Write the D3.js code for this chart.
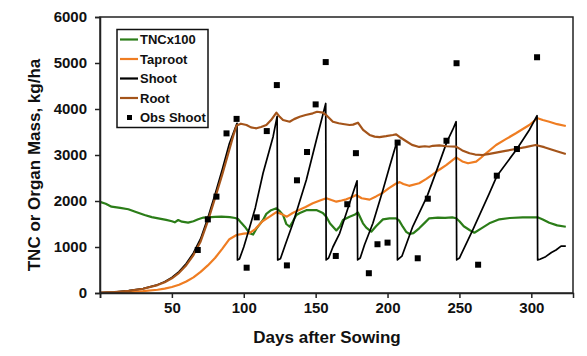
<!DOCTYPE html>
<html>
<head>
<meta charset="utf-8">
<script src="https://cdn.jsdelivr.net/npm/d3@7"></script>
<style>
  body { margin: 0; background: #fff; }
  text { font-family: "Liberation Sans", Arial, sans-serif; font-weight: bold; fill: #111; }
</style>
</head>
<body>
<svg id="chart" width="587" height="356"></svg>
<script>
// series as [day, kg/ha]
const tnc = [[0,1980],[4,1940],[8,1876],[14,1850],[19.7,1820],[25,1760],[31,1696],[36,1650],[40.5,1623],[46,1590],[50,1560],[52,1537],[54.4,1587],[57,1550],[61.3,1529],[65,1560],[68.3,1602],[72,1640],[75.2,1645],[80,1655],[84.5,1660],[90.3,1650],[94,1630],[96,1610],[98.4,1520],[100.7,1441],[104,1300],[106.5,1270],[108.8,1400],[113.4,1587],[115.7,1720],[119,1800],[122.7,1841],[125,1780],[127.3,1696],[129.6,1500],[131.9,1440],[134,1550],[136.6,1696],[139,1740],[143.5,1800],[150.5,1804],[155,1740],[157.4,1659],[160,1510],[164.4,1360],[167,1450],[169,1587],[173.6,1659],[177,1700],[179.4,1750],[182.9,1515],[185.2,1420],[188.7,1333],[192,1450],[196.8,1600],[201.4,1624],[206,1624],[208,1580],[210.6,1441],[213,1330],[215.3,1283],[218,1300],[222,1406],[226,1530],[229,1624],[235,1640],[240,1635],[245,1645],[247.7,1624],[250,1560],[253,1450],[257,1370],[260.4,1311],[265,1400],[270.8,1515],[277.8,1602],[285,1630],[294,1645],[304.4,1645],[308,1600],[312.5,1529],[318,1470],[324,1441]];

const taproot = [[0,0],[20,20],[30,40],[40,70],[45,95],[50,130],[55,180],[60,250],[65,340],[70,460],[75,600],[80,760],[85,960],[90,1170],[95,1260],[100,1290],[104,1300],[108,1390],[113,1560],[118,1660],[122.7,1760],[126,1720],[130,1660],[134,1740],[138,1800],[143,1870],[148,1950],[153,2010],[157.4,2060],[161,2020],[164.4,1985],[168,2010],[171.3,2036],[175,2080],[178.2,2130],[182,2060],[187.5,2030],[192,2100],[196.8,2180],[201,2280],[206,2380],[208.5,2410],[211,2370],[215,2330],[222,2385],[227,2480],[231.5,2580],[236,2680],[240.8,2780],[247.7,2950],[252,2860],[256,2820],[261.6,2855],[265,2940],[268.5,3037],[275.5,3217],[282,3340],[289.3,3472],[298.6,3652],[304.4,3800],[308,3760],[312.5,3724],[318,3670],[324,3630]];

const shoot = [[0,10],[10,22],[20,50],[30,95],[40,178],[45,245],[50,340],[55,465],[60,640],[65,870],[70,1180],[75,1630],[80,2140],[85,2680],[90,3250],[95.3,3690],
  [95.6,720],[97,740],[100,1000],[104.2,1441],[108,1850],[113.4,2602],[117,3010],[120.4,3398],[123.2,3840],
  [123.6,720],[125.5,745],[129,1060],[134.2,1515],[143.5,2457],[150.5,3326],[157,4120],
  [157.3,720],[159,760],[162,1000],[166.7,1297],[173.6,1950],[178.8,2440],
  [179.2,720],[181,760],[184,1050],[189.8,1515],[196.8,2239],[201.4,2746],[206.5,3290],
  [206.9,720],[210,800],[217.6,1450],[227.5,2100],[234,2650],[241.2,3280],[245.5,3560],[247.7,3724],
  [248.1,720],[250,760],[259.3,1370],[270.8,2167],[276.2,2551],[290,3130],[298.6,3544],[304,3855],
  [304.4,720],[306,735],[310,790],[314,880],[317.2,935],[320.7,1020],[324,1020]];

const root = [[0,10],[10,22],[20,48],[30,92],[40,172],[45,235],[50,320],[55,440],[60,605],[65,825],[70,1120],[75,1560],[80,2060],[85,2570],[90,3120],[93,3450],[95,3640],[98,3680],[101.9,3652],[105,3600],[108.8,3580],[112,3610],[115.7,3652],[119,3760],[122.7,3920],[125,3830],[127.3,3761],[131.9,3724],[135,3780],[138.9,3833],[143,3870],[148,3906],[151,3940],[155,3920],[158,3850],[162,3724],[166,3690],[169,3674],[173.6,3652],[176,3660],[179.4,3703],[183,3544],[187.5,3435],[191,3400],[194.4,3390],[199,3410],[203.7,3435],[206,3449],[209,3380],[213,3300],[217,3220],[222,3175],[226,3190],[229,3180],[231.5,3200],[236,3210],[241,3190],[247.7,3181],[252,3100],[257,3037],[261,3010],[266,3000],[270,3020],[275.5,3050],[282,3090],[289,3130],[296,3170],[303,3217],[309,3170],[315,3109],[320,3060],[324,3022]];

const obsShoot = [[68,935],[75,1600],[81,2095],[88,3470],[95,3785],[102,550],[109,1645],[116,3520],[123,4520],[130,600],[137,2450],[144,3065],[150,4100],[157,5020],[164,805],[172,1930],[178,3040],[187,430],[193,1060],[200,1095],[207,3270],[221,755],[228,2050],[241,3310],[248,4995],[263,615],[276,2550],[290,3130],[304,5125]];

const xTicks = [0, 50, 100, 150, 200, 250, 300];
const yTicks = [0, 1000, 2000, 3000, 4000, 5000, 6000];

const legendItems = [
  { name: 'TNCx100', color: '#2b7d18', type: 'line' },
  { name: 'Taproot', color: '#ef7d22', type: 'line' },
  { name: 'Shoot', color: '#000000', type: 'line' },
  { name: 'Root', color: '#a4541a', type: 'line' },
  { name: 'Obs Shoot', color: '#000000', type: 'square' }
];

const svg = d3.select('#chart');
const plotL = 100, plotR = 573, plotT = 17, plotB = 293;

const x = d3.scaleLinear().domain([0, 329]).range([plotL, plotR]);
const y = d3.scaleLinear().domain([0, 6000]).range([plotB, plotT]);

svg.append('rect').attr('width', 587).attr('height', 356).attr('fill', '#fff');

// series
const line = d3.line().x(d => x(d[0])).y(d => y(d[1]));
const series = [
  { data: tnc, color: legendItems[0].color, w: 2.2 },
  { data: taproot, color: legendItems[1].color, w: 2.2 },
  { data: shoot, color: '#000', w: 1.7 },
  { data: root, color: legendItems[3].color, w: 2.2 }
];
series.forEach(s => {
  svg.append('path').datum(s.data)
    .attr('d', line)
    .attr('fill', 'none')
    .attr('stroke', s.color)
    .attr('stroke-width', s.w)
    .attr('stroke-linejoin', 'round');
});

svg.selectAll('.obs').data(obsShoot).enter().append('rect')
  .attr('class', 'obs')
  .attr('x', d => x(d[0]) - 3)
  .attr('y', d => y(d[1]) - 3)
  .attr('width', 6).attr('height', 6)
  .attr('fill', '#000');

// frame
svg.append('rect')
  .attr('x', plotL).attr('y', plotT)
  .attr('width', plotR - plotL).attr('height', plotB - plotT)
  .attr('fill', 'none').attr('stroke', '#222').attr('stroke-width', 1.5);

// axes
const xAxis = svg.append('g').attr('transform', `translate(0,${plotB})`)
  .call(d3.axisBottom(x).tickValues(xTicks).tickSize(5).tickPadding(4)
    .tickFormat(d => d === 0 ? '' : d));
const yAxis = svg.append('g').attr('transform', `translate(${plotL},0)`)
  .call(d3.axisLeft(y).tickValues(yTicks).tickSize(5).tickPadding(8)
    .tickFormat(d3.format('d')));
[xAxis, yAxis].forEach(a => {
  a.select('.domain').attr('stroke', '#222').attr('stroke-width', 1.5);
  a.selectAll('.tick line').attr('stroke', '#222').attr('stroke-width', 1.5);
  a.selectAll('.tick text').style('font-size', '15px').attr('fill', '#111');
});

// titles
svg.append('text')
  .attr('x', 327).attr('y', 343)
  .attr('text-anchor', 'middle')
  .style('font-size', '17px')
  .text('Days after Sowing');

svg.append('text')
  .attr('transform', 'translate(40,165) rotate(-90)')
  .attr('text-anchor', 'middle')
  .style('font-size', '17px')
  .text('TNC or Organ Mass, kg/ha');

// legend
const lg = svg.append('g');
lg.append('rect')
  .attr('x', 117).attr('y', 29.5).attr('width', 91).attr('height', 98)
  .attr('fill', '#fff').attr('stroke', '#111').attr('stroke-width', 1.5);
const rows = lg.selectAll('.row').data(legendItems).enter().append('g')
  .attr('transform', (d, i) => `translate(0,${39.5 + i * 19.5})`);
rows.filter(d => d.type === 'line').append('line')
  .attr('x1', 120).attr('x2', 138).attr('y1', 0).attr('y2', 0)
  .attr('stroke', d => d.color).attr('stroke-width', 2.2);
rows.filter(d => d.type === 'square').append('rect')
  .attr('x', 127).attr('y', -2.5).attr('width', 5).attr('height', 5)
  .attr('fill', d => d.color);
rows.append('text')
  .attr('x', 140).attr('y', 4.8)
  .style('font-size', '13px')
  .text(d => d.name);
</script>
</body>
</html>
